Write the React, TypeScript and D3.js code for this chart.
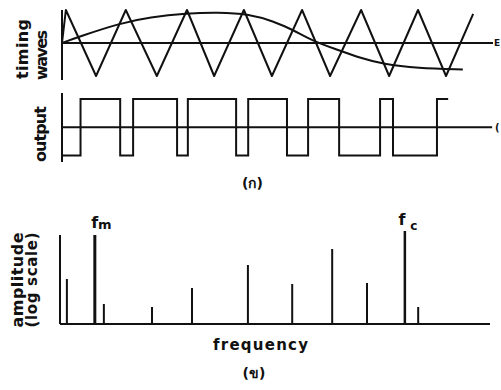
import React, { useEffect, useRef } from 'react';
import * as d3 from 'd3';

// timing waves: triangular carrier, vertices (time, level)
const carrierT = [0, 0.9, 7.9, 14.8, 22.0, 29.0, 35.3, 42.2, 48.7, 55.7, 62.2, 69.4, 75.9, 82.6, 89.1, 95.4];
const carrierV = [0, 1, -1, 1, -1, 1, -1, 1, -1, 1, -1, 1, -1, 1, -1, 0.88];

const modT = [0, 4.2, 13.5, 20.4, 29.0, 36.0, 43.6, 49.0, 53.6, 58.2, 63.8, 69.1, 74.5, 82.4, 93.0];
const modV = [0, 0.2, 0.6, 0.78, 0.9, 0.93, 0.88, 0.66, 0.4, 0.06, -0.2, -0.45, -0.64, -0.76, -0.8];

// output pulse train: switching instants and the level after each
const outT = [0, 4.3, 13.5, 16.5, 26.7, 29.2, 40.4, 43.2, 52.2, 57.1, 64.3, 73.8, 76.8, 87.0, 89.6];
const outV = [-1, 1, -1, 1, -1, 1, -1, 1, -1, 1, -1, 1, -1, 1, 1];

// spectrum lines
const freqs = [1.6, 8.1, 10.2, 21.4, 30.7, 43.7, 54.0, 63.3, 71.4, 80.2, 83.3];
const amps = [45, 89, 20, 17, 36, 59, 40, 75, 41, 93, 17];
const fmIndex = 1;
const fcIndex = 9;

const FONT = '"DejaVu Sans", sans-serif';
const INK = '#111';

export default function App() {
  const ref = useRef<HTMLDivElement>(null);

  useEffect(() => {
    const container = ref.current;
    if (!container) return;
    container.innerHTML = '';
    document.body.style.margin = '0';

    const width = 501;
    const height = 390;

    const svg = d3.select(container)
      .append('svg')
      .attr('width', width)
      .attr('height', height)
      .style('display', 'block')
      .style('background', '#fff');

    const xTime = d3.scaleLinear().domain([0, 100]).range([62, 493]);
    const yTop = d3.scaleLinear().domain([-1, 1]).range([76, 10]);
    const yOut = d3.scaleLinear().domain([-1, 1]).range([155.5, 99]);
    const xFreq = d3.scaleLinear().domain([0, 100]).range([60, 490]);
    const yAmp = d3.scaleLinear().domain([0, 100]).range([324, 224]);

    const line = (x1: number, y1: number, x2: number, y2: number, w = 2) =>
      svg.append('line')
        .attr('x1', x1).attr('y1', y1).attr('x2', x2).attr('y2', y2)
        .attr('stroke', INK).attr('stroke-width', w);

    // ---- timing waves
    line(xTime(0), yTop(1), xTime(0), yTop(-1.12));
    line(xTime(0), yTop(0), xTime(100), yTop(0), 1.8);

    const carrier = carrierT.map((t, i) => [t, carrierV[i]] as [number, number]);
    svg.append('path')
      .attr('d', d3.line<[number, number]>().x(d => xTime(d[0])).y(d => yTop(d[1]))(carrier))
      .attr('fill', 'none').attr('stroke', INK).attr('stroke-width', 2).attr('stroke-linejoin', 'round');

    const mod = modT.map((t, i) => [t, modV[i]] as [number, number]);
    svg.append('path')
      .attr('d', d3.line<[number, number]>().x(d => xTime(d[0])).y(d => yTop(d[1])).curve(d3.curveBasis)(mod))
      .attr('fill', 'none').attr('stroke', INK).attr('stroke-width', 2);

    // ---- output
    line(xTime(0), yOut(1.21), xTime(0), yOut(-1.23));
    line(xTime(0), yOut(0), xTime(99.8), yOut(0), 1.8);

    const out = outT.map((t, i) => [t, outV[i]] as [number, number]);
    svg.append('path')
      .attr('d', d3.line<[number, number]>().x(d => xTime(d[0])).y(d => yOut(d[1])).curve(d3.curveStepAfter)(out))
      .attr('fill', 'none').attr('stroke', INK).attr('stroke-width', 2);

    // ---- spectrum
    line(xFreq(0), yAmp(0), xFreq(0), yAmp(89));
    line(xFreq(0), yAmp(0), xFreq(100), yAmp(0));

    svg.selectAll('line.spec')
      .data(freqs)
      .enter()
      .append('line')
      .attr('class', 'spec')
      .attr('x1', d => xFreq(d)).attr('x2', d => xFreq(d))
      .attr('y1', yAmp(0))
      .attr('y2', (d, i) => yAmp(amps[i]))
      .attr('stroke', INK)
      .attr('stroke-width', (d, i) => (i === fmIndex ? 3 : i === fcIndex ? 2.5 : 2));

    // ---- text
    const text = (s: string, x: number, y: number, opts: { size?: number; rotate?: boolean; len?: number; anchor?: string } = {}) => {
      const t = svg.append('text')
        .attr('x', x).attr('y', y)
        .attr('font-family', FONT)
        .attr('font-weight', 'bold')
        .attr('font-size', opts.size || 14)
        .attr('fill', INK)
        .attr('text-anchor', opts.anchor || 'middle')
        .text(s);
      if (opts.len) t.attr('textLength', opts.len).attr('lengthAdjust', 'spacing');
      if (opts.rotate) t.attr('transform', `rotate(-90 ${x} ${y})`);
      return t;
    };

    // rotated labels: x is baseline, y is centre
    text('timing', 28, 49, { rotate: true, len: 60, size: 16 });
    text('waves', 47, 55, { rotate: true, len: 50, size: 16 });
    text('output', 46, 134, { rotate: true, len: 56, size: 16 });
    text('amplitude', 23, 280, { rotate: true, len: 95, size: 16 });
    text('(log scale)', 37, 280, { rotate: true, len: 95, size: 15 });

    text('frequency', 260.5, 350, { len: 95, size: 15 });
    text('(ก)', 252.5, 188, { size: 14 });
    text('(ข)', 254, 378, { size: 14 });

    const fx = xFreq(freqs[fmIndex]);
    text('f', fx, 228, { size: 16, anchor: 'middle' });
    text('m', fx + 10, 229, { size: 13, anchor: 'middle' });
    const cx = xFreq(freqs[fcIndex]);
    text('f', cx - 3, 225, { size: 16, anchor: 'middle' });
    text('c', cx + 9, 230, { size: 12, anchor: 'middle' });

    // small marks at the right edge of the page
    text('E', 494, 46, { size: 9, anchor: 'start' });
    text('(', 495, 131, { size: 10, anchor: 'start' });
  }, []);

  return <div ref={ref} />;
}
